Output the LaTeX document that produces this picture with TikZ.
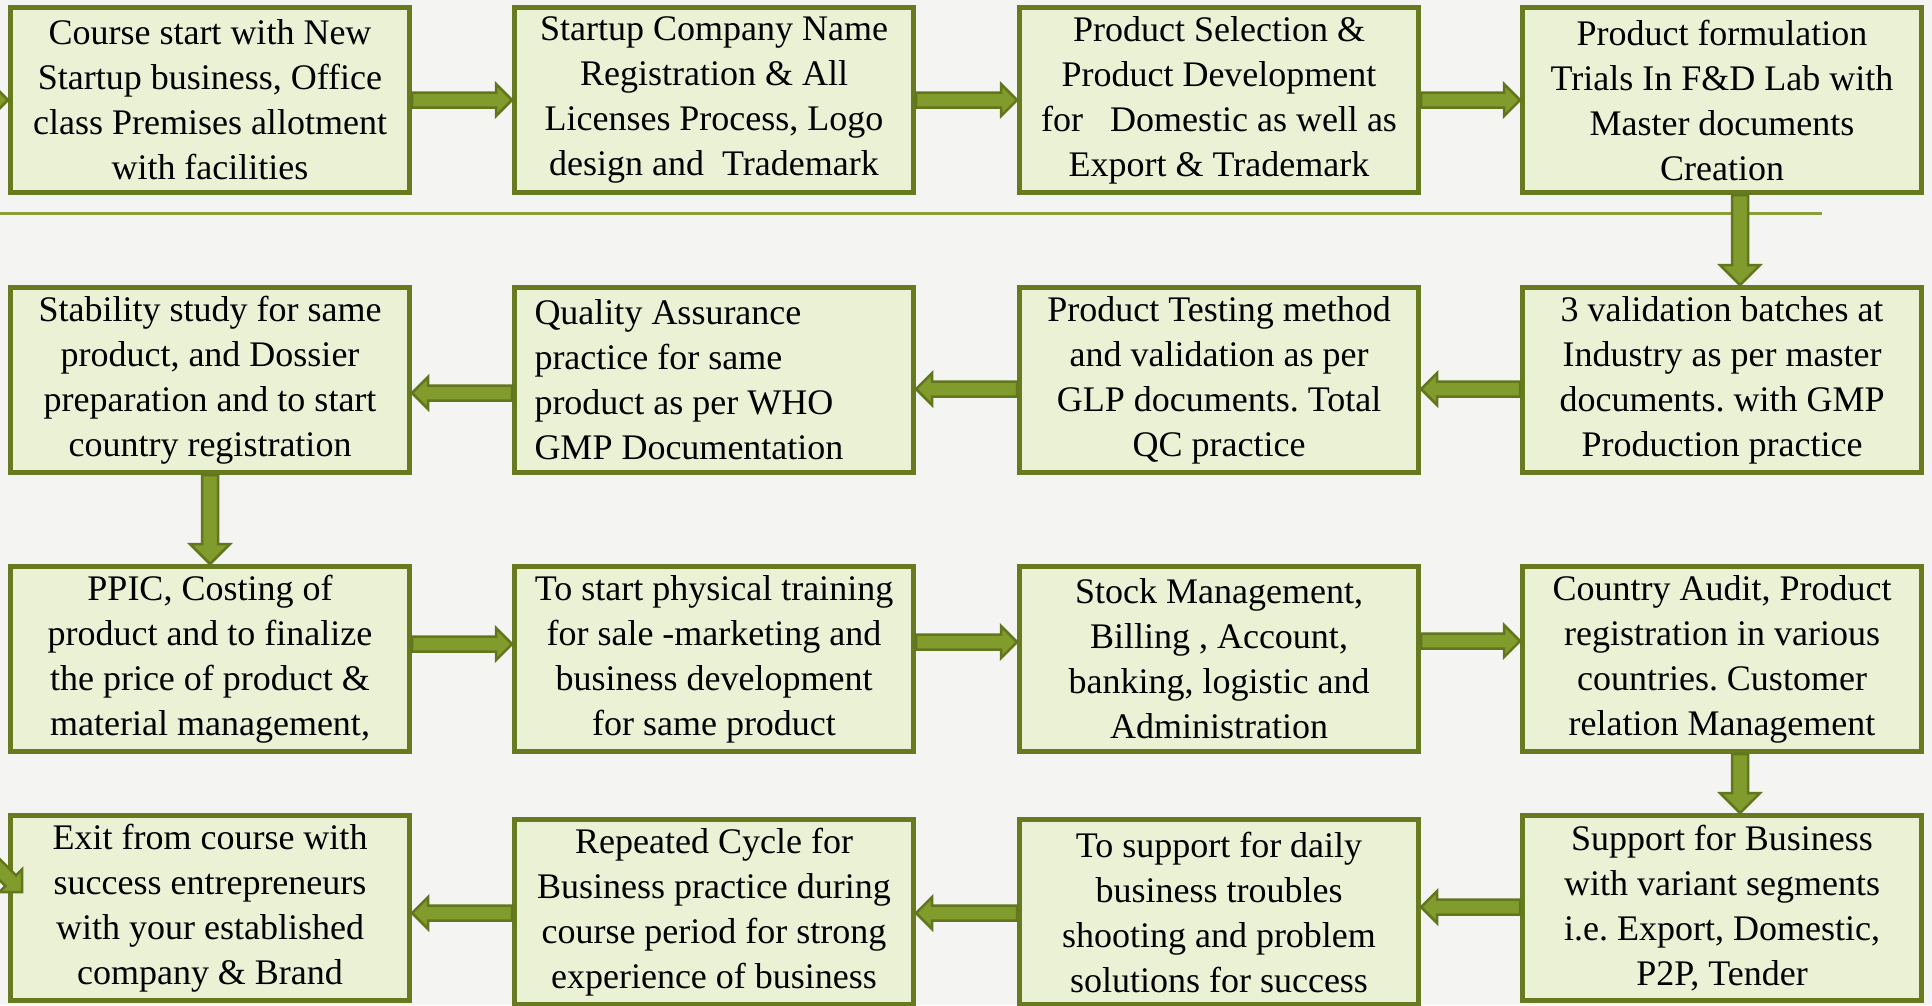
\documentclass[tikz,border=0pt]{standalone}
\usepackage{fontspec}
\setmainfont{Liberation Serif}
\usetikzlibrary{calc}
\definecolor{bg}{RGB}{244,244,242}
\definecolor{boxfill}{RGB}{235,241,212}
\definecolor{boxline}{RGB}{104,122,32}
\definecolor{arrfill}{RGB}{130,155,45}
\definecolor{arrline}{RGB}{98,118,30}
\definecolor{rulecol}{RGB}{138,158,58}
\tikzset{
 stepbox/.style={draw=boxline, fill=boxfill, line width=5pt, rectangle,
   minimum width=399pt, minimum height=185pt, inner sep=0pt, align=center,
   font=\fontsize{36}{45}\selectfont\frenchspacing},
 leftbox/.style={stepbox, align=flush left, text width=359pt},
 blk/.style={draw=arrline, fill=arrfill, line width=2.5pt, line join=miter},
}
\newcommand\arR[2]{\draw[blk] let \p1=#1, \p2=#2 in
  (\x1,\y1+7.5pt) -- (\x2-16pt,\y1+7.5pt) -- (\x2-16pt,\y1+16pt) -- (\x2,\y1)
  -- (\x2-16pt,\y1-16pt) -- (\x2-16pt,\y1-7.5pt) -- (\x1,\y1-7.5pt) -- cycle;}
\newcommand\arL[2]{\draw[blk] let \p1=#1, \p2=#2 in
  (\x1,\y1+7.5pt) -- (\x2+16pt,\y1+7.5pt) -- (\x2+16pt,\y1+16pt) -- (\x2,\y1)
  -- (\x2+16pt,\y1-16pt) -- (\x2+16pt,\y1-7.5pt) -- (\x1,\y1-7.5pt) -- cycle;}
\newcommand\arD[2]{\draw[blk] let \p1=#1, \p2=#2 in
  (\x1-8pt,\y1) -- (\x1-8pt,\y2+20pt) -- (\x1-20pt,\y2+20pt) -- (\x1,\y2)
  -- (\x1+20pt,\y2+20pt) -- (\x1+8pt,\y2+20pt) -- (\x1+8pt,\y1) -- cycle;}
\begin{document}
\begin{tikzpicture}[x=1pt,y=-1pt]
\useasboundingbox (0,0) rectangle (1932,1005);
\clip (0,0) rectangle (1932,1005);
\fill[bg] (0,0) rectangle (1932,1005);
\draw[rulecol, line width=3pt] (0,213) -- (1822,213);

\node[stepbox] (b1) at (210,100) {Course start with New\\Startup business, Office\\class Premises allotment\\with facilities};
\node[stepbox] (b2) at (714,100) {Startup Company Name\\Registration \& All\\Licenses Process, Logo\\design and\ \ Trademark};
\node[stepbox] (b3) at (1219,100) {Product Selection \&\\Product Development\\for\ \ \ Domestic as well as\\Export \& Trademark};
\node[stepbox] (b4) at (1722,100) {Product formulation\\Trials In F\&D Lab with\\Master documents\\Creation};

\node[stepbox] (b5) at (1722,380) {3 validation batches at\\Industry as per master\\documents. with GMP\\Production practice};
\node[stepbox] (b6) at (1219,380) {Product Testing method\\and validation as per\\GLP documents. Total\\QC practice};
\node[leftbox] (b7) at (714,380) {Quality Assurance\\practice for same\\product as per WHO\\GMP Documentation};
\node[stepbox] (b8) at (210,380) {Stability study for same\\product, and Dossier\\preparation and to start\\country registration};

\node[stepbox] (b9) at (210,659) {PPIC, Costing of\\product and to finalize\\the price of product \&\\material management,};
\node[stepbox] (b10) at (714,659) {To start physical training\\for sale -marketing and\\business development\\for same product};
\node[stepbox] (b11) at (1219,659) {Stock Management,\\Billing , Account,\\banking, logistic and\\Administration};
\node[stepbox] (b12) at (1722,659) {Country Audit, Product\\registration in various\\countries. Customer\\relation Management};

\node[stepbox] (b13) at (1722,908) {Support for Business\\with variant segments\\i.e. Export, Domestic,\\P2P, Tender};
\node[stepbox] (b14) at (1219,912) {To support for daily\\business troubles\\shooting and problem\\solutions for success};
\node[stepbox] (b15) at (714,912) {Repeated Cycle for\\Business practice during\\course period for strong\\experience of business};
\node[stepbox] (b16) at (210,908) {Exit from course with\\success entrepreneurs\\with your established\\company \& Brand};

\coordinate (in1) at (-100,100);
\arR{(in1)}{(b1.west)}
\arR{(b1.east)}{(b2.west)}
\arR{(b2.east)}{(b3.west)}
\arR{(b3.east)}{(b4.west)}
\arD{([xshift=18pt]b4.south)}{(b5.north)}
\arL{([yshift=-9pt]b5.west)}{(b6.east)}
\arL{([yshift=-9pt]b6.west)}{(b7.east)}
\arL{([yshift=-13pt]b7.west)}{(b8.east)}
\arD{(b8.south)}{(b9.north)}
\arR{([yshift=15pt]b9.east)}{(b10.west)}
\arR{([yshift=17pt]b10.east)}{(b11.west)}
\arR{([yshift=18pt]b11.east)}{(b12.west)}
\arD{([xshift=18pt]b12.south)}{(b13.north)}
\arL{([yshift=1pt]b13.west)}{(b14.east)}
\arL{([yshift=-1pt]b14.west)}{(b15.east)}
\arL{([yshift=-1pt]b15.west)}{(b16.east)}
\begin{scope}[shift={([xshift=14pt,yshift=16pt]b16.west)}, rotate=-45]
\draw[blk] (0pt,0pt) -- (-16pt,16pt) -- (-16pt,7.5pt) -- (-150pt,7.5pt)
  -- (-150pt,-7.5pt) -- (-16pt,-7.5pt) -- (-16pt,-16pt) -- cycle;
\end{scope}
\end{tikzpicture}
\end{document}
